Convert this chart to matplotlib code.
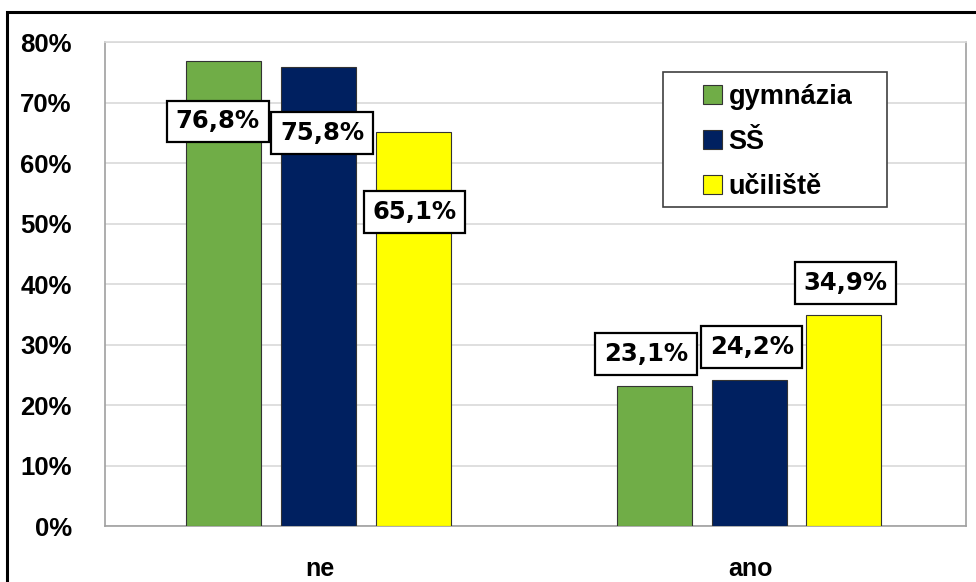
import matplotlib.pyplot as plt
import numpy as np

categories = ['ne', 'ano']
series = ['gymnázia', 'SŠ', 'učiliště']
values = [
    [76.8, 23.1],   # gymnázia
    [75.8, 24.2],   # SŠ
    [65.1, 34.9],   # učiliště
]
colors = ['#70ad47', '#002060', '#ffff00']
# label centre offsets from bar top (in % units) and from bar centre (in
# category units), as the labels were placed by hand in the original
label_dy = [
    [-9.9, 5.3],
    [-10.8, 5.4],
    [-13.2, 5.3],
]
label_dx = [
    [-0.014, -0.02],
    [0.008, 0.006],
    [0.003, 0.004],
]
yticks = [0, 10, 20, 30, 40, 50, 60, 70, 80]

fig = plt.figure(figsize=(9.76, 5.82), dpi=100)
ax = fig.add_axes([0.1076, 0.0962, 0.8822, 0.8316])

# outer chart border
fig.patches.append(plt.Rectangle((7 / 976, -0.1), 1.2, 1 - 12 / 582 + 0.1,
                                 transform=fig.transFigure, fill=False,
                                 edgecolor='black', linewidth=2.2))

x = np.arange(len(categories))
width = 0.174
step = 0.22

for i, name in enumerate(series):
    xs = x + (i - 1) * step - 0.004
    ax.bar(xs, values[i], width, color=colors[i], edgecolor='#333333',
           linewidth=0.8, label=name, zorder=3)
    for j, v in enumerate(values[i]):
        ax.text(xs[j] + label_dx[i][j], v + label_dy[i][j],
                f'{v:.1f}%'.replace('.', ','),
                ha='center', va='center', fontsize=17.5, fontweight='bold',
                family='DejaVu Sans', zorder=5,
                bbox=dict(boxstyle='square,pad=0.36', facecolor='white',
                          edgecolor='black', linewidth=1.6))

ax.set_xlim(-0.5, 1.5)
ax.set_ylim(0, 80)
ax.set_yticks(yticks)
ax.set_yticklabels([f'{t}%' for t in yticks], fontsize=18.5, fontweight='bold',
                   family='Liberation Sans')
ax.set_xticks(x)
ax.set_xticklabels(categories, fontsize=18, fontweight='bold',
                   family='Liberation Sans')
ax.tick_params(axis='y', length=0, pad=24)
ax.tick_params(axis='x', length=0, pad=22)

ax.grid(axis='y', color='#d9d9d9', linewidth=1.2, zorder=0)
for s in ax.spines.values():
    s.set_color('#a0a0a0')
    s.set_linewidth(1.2)
ax.spines['top'].set_color('#d9d9d9')

# legend frame drawn separately so the entries can sit inside it with wide margins
ax.add_patch(plt.Rectangle((0.648, 0.659), 0.26, 0.279, transform=ax.transAxes,
                           facecolor='white', edgecolor='#404040',
                           linewidth=1.2, zorder=6))
leg = ax.legend(loc='upper left', bbox_to_anchor=(0.6945, 0.913),
                prop={'family': 'Liberation Sans', 'weight': 'bold', 'size': 19.5},
                frameon=False, handlelength=0.7, handleheight=0.7,
                handletextpad=0.25, borderpad=0, labelspacing=0.69,
                borderaxespad=0)
leg.set_zorder(7)

fig.savefig('out.png', dpi=100)
